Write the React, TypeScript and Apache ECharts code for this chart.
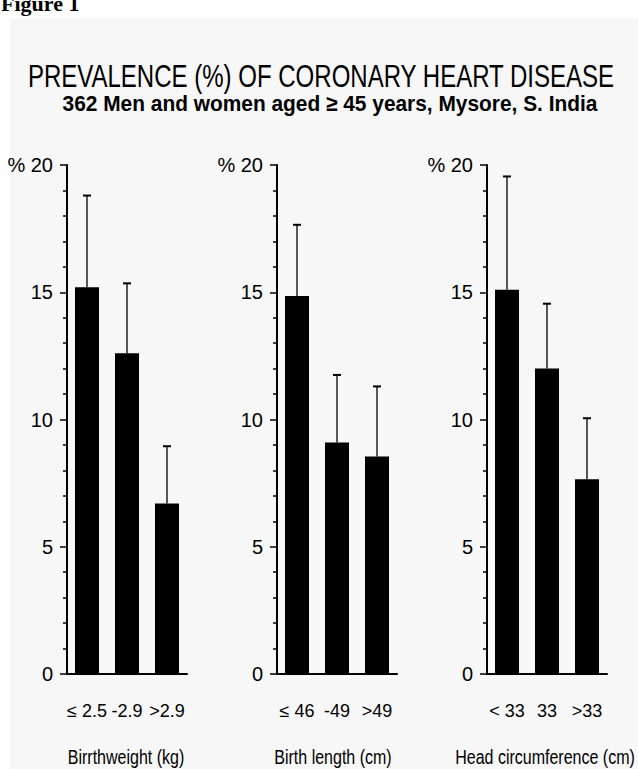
import React, { useEffect, useRef } from "react";
import * as echarts from "echarts";

const panelCats1 = ["≤ 2.5", "-2.9", ">2.9"];
const panelCats2 = ["≤ 46", "-49", ">49"];
const panelCats3 = ["< 33", "33", ">33"];

const values1 = [15.2, 12.6, 6.7];
const upper1 = [18.8, 15.35, 8.95];
const values2 = [14.85, 9.1, 8.55];
const upper2 = [17.65, 11.75, 11.3];
const values3 = [15.1, 12.0, 7.65];
const upper3 = [19.55, 14.55, 10.05];

const axisTitles = ["Birrthweight (kg)", "Birth length (cm)", "Head circumference (cm)"];
const yTicks = [0, 5, 10, 15, 20];

const FONT = "'Liberation Sans', Arial, sans-serif";

export default function App() {
  const ref = useRef<HTMLDivElement>(null);
  useEffect(() => {
    if (!ref.current) return;
    const chart = echarts.init(ref.current, null, { renderer: "svg" });
    const cats = [panelCats1, panelCats2, panelCats3];
    const vals = [values1, values2, values3];
    const ups = [upper1, upper2, upper3];
    const lefts = [67, 277, 487];
    const titleCenters = [126, 333, 545];

    const grids = lefts.map((l) => ({ left: l, top: 165, width: 120, height: 509 }));
    const xAxes = cats.map((c, i) => ({
      type: "category",
      gridIndex: i,
      data: c,
      axisLine: { lineStyle: { color: "#000", width: 2 } },
      axisTick: { alignWithLabel: true, length: 12, lineStyle: { color: "#000", width: 1.5 } },
      axisLabel: { color: "#000", fontFamily: FONT, fontSize: 18, margin: 28, interval: 0 },
    }));
    const yAxes = cats.map((_, i) => ({
      type: "value",
      gridIndex: i,
      min: yTicks[0],
      max: yTicks[yTicks.length - 1],
      interval: 5,
      axisLine: { show: true, lineStyle: { color: "#000", width: 2 } },
      axisTick: { show: true, length: 7, lineStyle: { color: "#000", width: 1.5 } },
      minorTick: { show: true, splitNumber: 5, length: 4, lineStyle: { color: "#000", width: 1.5 } },
      splitLine: { show: false },
      axisLabel: {
        color: "#000",
        fontFamily: FONT,
        fontSize: 20,
        margin: 14,
        formatter: (v: number) => (v === 20 ? "% 20" : String(v)),
      },
    }));

    const series: any[] = [];
    for (let i = 0; i < 3; i++) {
      series.push({
        type: "bar",
        xAxisIndex: i,
        yAxisIndex: i,
        data: vals[i],
        barWidth: 24,
        itemStyle: { color: "#000" },
      });
      series.push({
        type: "custom",
        xAxisIndex: i,
        yAxisIndex: i,
        data: vals[i].map((v, k) => [k, v, ups[i][k]]),
        encode: { x: 0, y: 1 },
        z: 5,
        renderItem: (params: any, api: any) => {
          const base = api.coord([api.value(0), api.value(1)]);
          const top = api.coord([api.value(0), api.value(2)]);
          return {
            type: "group",
            children: [
              {
                type: "line",
                shape: { x1: base[0], y1: base[1], x2: base[0], y2: top[1] },
                style: { stroke: "#000", lineWidth: 1.3 },
              },
              {
                type: "line",
                shape: { x1: base[0] - 4, y1: top[1], x2: base[0] + 4, y2: top[1] },
                style: { stroke: "#000", lineWidth: 2 },
              },
            ],
          };
        },
      });
    }

    const graphic: any[] = [
      { type: "rect", z: -10, shape: { x: 10, y: 18, width: 640, height: 760 }, style: { fill: "#f7f7f7" } },
      {
        type: "text",
        x: 1,
        y: 14,
        style: { text: "Figure 1", font: "bold 22px 'Liberation Serif', 'Times New Roman', serif", fill: "#000", textVerticalAlign: "bottom" },
      },
      {
        type: "text",
        x: 321,
        y: 76,
        scaleX: 0.775,
        style: {
          text: "PREVALENCE (%) OF CORONARY HEART DISEASE",
          font: `31px ${FONT}`,
          fill: "#000",
          textAlign: "center",
          textVerticalAlign: "middle",
        },
      },
      {
        type: "text",
        x: 330,
        y: 104,
        scaleX: 0.95,
        style: {
          text: "362 Men and women aged ≥ 45 years, Mysore, S. India",
          font: `bold 22px ${FONT}`,
          fill: "#000",
          textAlign: "center",
          textVerticalAlign: "middle",
        },
      },
      ...axisTitles.map((t, i) => ({
        type: "text",
        x: titleCenters[i],
        y: 757,
        scaleX: 0.8,
        style: { text: t, font: `20px ${FONT}`, fill: "#000", textAlign: "center", textVerticalAlign: "middle" },
      })),
    ];

    chart.setOption({
      animation: false,
      backgroundColor: "#fff",
      grid: grids,
      xAxis: xAxes,
      yAxis: yAxes,
      series,
      graphic,
    });
    return () => chart.dispose();
  }, []);
  return <div ref={ref} style={{ position: "fixed", left: 0, top: 0, width: 638, height: 769 }} />;
}
